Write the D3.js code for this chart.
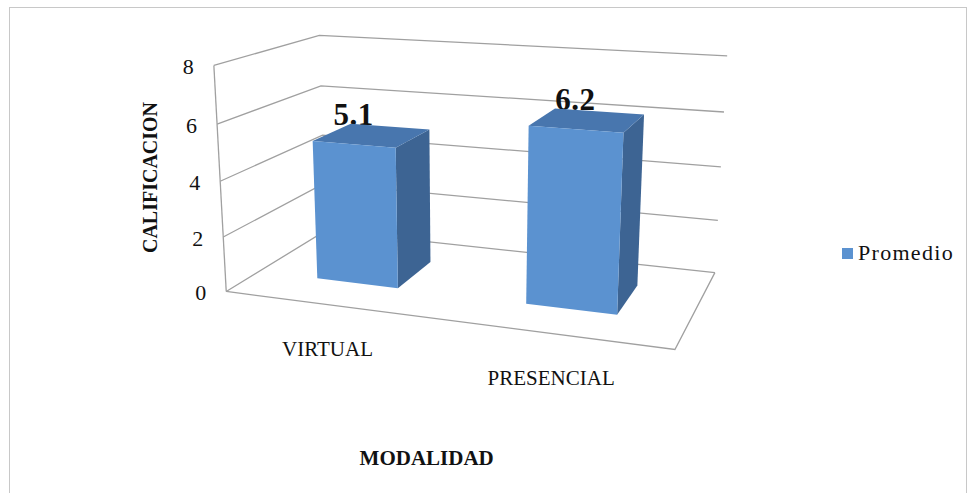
<!DOCTYPE html>
<html>
<head>
<meta charset="utf-8">
<script src="https://cdn.jsdelivr.net/npm/d3@7"></script>
<style>
  body { margin: 0; background: #ffffff; }
  text { font-family: "Liberation Serif", "Times New Roman", serif; fill: #111; }
</style>
</head>
<body>
<svg id="chart" width="972" height="493"></svg>
<script>
// ---- data ----
const categories = ["VIRTUAL", "PRESENCIAL"];
const promedio = [5.1, 6.2];
const yTicks = [0, 2, 4, 6, 8];
const seriesName = "Promedio";
const yTitle = "CALIFICACION";
const xTitle = "MODALIDAD";

// ---- 3D plot box: unit cube, x across categories, y up, z into the page ----
// Screen positions of the box corners used to set up the perspective camera.
const boxCorners = [
  { w: [0, 0, 0], s: [226.7, 290.7] },
  { w: [0, 0, 1], s: [325.0, 231.5] },
  { w: [1, 0, 1], s: [715.0, 272.0] },
  { w: [1, 0, 0], s: [675.0, 350.0] },
  { w: [0, 1, 0], s: [213.3, 65.7] },
  { w: [0, 1, 1], s: [320.0, 35.0] },
  { w: [1, 1, 1], s: [727.0, 56.0] }
];

// Least-squares 3x4 projection (last entry fixed to 1)
function solveCamera(pts) {
  const A = [], b = [];
  pts.forEach(({ w: [X, Y, Z], s: [u, v] }) => {
    A.push([X, Y, Z, 1, 0, 0, 0, 0, -u * X, -u * Y, -u * Z]); b.push(u);
    A.push([0, 0, 0, 0, X, Y, Z, 1, -v * X, -v * Y, -v * Z]); b.push(v);
  });
  const n = 11;
  const M = Array.from({ length: n }, () => new Array(n + 1).fill(0));
  for (let r = 0; r < A.length; r++) {
    for (let i = 0; i < n; i++) {
      for (let j = 0; j < n; j++) M[i][j] += A[r][i] * A[r][j];
      M[i][n] += A[r][i] * b[r];
    }
  }
  for (let c = 0; c < n; c++) {
    let p = c;
    for (let r = c + 1; r < n; r++) if (Math.abs(M[r][c]) > Math.abs(M[p][c])) p = r;
    [M[c], M[p]] = [M[p], M[c]];
    for (let r = 0; r < n; r++) {
      if (r === c) continue;
      const f = M[r][c] / M[c][c];
      for (let k = c; k <= n; k++) M[r][k] -= f * M[c][k];
    }
  }
  return M.map((row, i) => row[n] / row[i]);
}
const P = solveCamera(boxCorners);
function project([x, y, z]) {
  const w = P[8] * x + P[9] * y + P[10] * z + 1;
  return [(P[0] * x + P[1] * y + P[2] * z + P[3]) / w,
          (P[4] * x + P[5] * y + P[6] * z + P[7]) / w];
}

// ---- scales ----
const yScale = d3.scaleLinear().domain([0, 8]).range([0, 1]);
const xScale = d3.scaleBand().domain(categories).range([0, 1])
  .paddingInner(0.6).paddingOuter(0.3);
const gapDepth = 1.5;
const barDepth = 1 / (1 + gapDepth);
const z0 = (1 - barDepth) / 2, z1 = z0 + barDepth;

const svg = d3.select("#chart");
const line = d3.line();
const poly = pts => line(pts.map(project)) + "Z";

// outer frame
svg.append("rect")
  .attr("x", 9.5).attr("y", 7.5).attr("width", 957).attr("height", 492)
  .attr("fill", "none").attr("stroke", "#c8c8c8").attr("stroke-width", 1);

const grid = svg.append("g")
  .attr("fill", "none").attr("stroke", "#a0a0a0").attr("stroke-width", 1.3);

// side and back wall gridlines
yTicks.forEach(t => {
  const y = yScale(t);
  grid.append("path").attr("d", line([project([0, y, 0]), project([0, y, 1]), project([1, y, 1])]));
});
// front edge of the side wall
grid.append("path").attr("d", line([project([0, 0, 0]), project([0, 1, 0])]));
// floor front and right edges
grid.append("path").attr("d", line([project([0, 0, 0]), project([1, 0, 0]), project([1, 0, 1])]));

// value axis tick labels
svg.append("g").selectAll("text").data(yTicks).join("text")
  .attr("x", d => project([0, yScale(d), 0])[0] - 20)
  .attr("y", d => project([0, yScale(d), 0])[1] + 9)
  .attr("text-anchor", "end")
  .attr("font-size", 22)
  .text(d => d);

// category labels
svg.append("g").selectAll("text").data(categories).join("text")
  .attr("x", d => project([xScale(d) + xScale.bandwidth() / 2, 0, 0])[0] - 0.5)
  .attr("y", d => project([xScale(d) + xScale.bandwidth() / 2, 0, 0])[1] + 51)
  .attr("text-anchor", "middle")
  .attr("font-size", 21)
  .text(d => d);

// value labels (sit behind the bar tops)
svg.append("g").selectAll("text").data(categories).join("text")
  .attr("x", (d, i) => project([xScale(d) + xScale.bandwidth() / 2, yScale(promedio[i]), z0])[0])
  .attr("y", (d, i) => project([xScale(d) + xScale.bandwidth() / 2, yScale(promedio[i]), z0])[1] - 19)
  .attr("text-anchor", "middle")
  .attr("font-size", 31)
  .attr("font-weight", "bold")
  .attr("letter-spacing", 0.5)
  .text((d, i) => d3.format(".1f")(promedio[i]));

// bars
const colors = { front: "#5b92d0", top: "#4876ae", side: "#3d6493" };
const bars = svg.append("g").selectAll("g").data(categories).join("g");
bars.each(function (d, i) {
  const g = d3.select(this);
  const x0 = xScale(d), x1 = x0 + xScale.bandwidth();
  const h = yScale(promedio[i]);
  g.append("path").attr("fill", colors.side)
    .attr("d", poly([[x1, 0, z0], [x1, 0, z1], [x1, h, z1], [x1, h, z0]]));
  g.append("path").attr("fill", colors.top)
    .attr("d", poly([[x0, h, z0], [x1, h, z0], [x1, h, z1], [x0, h, z1]]));
  g.append("path").attr("fill", colors.front)
    .attr("d", poly([[x0, 0, z0], [x1, 0, z0], [x1, h, z0], [x0, h, z0]]));
});

// axis titles
svg.append("text")
  .attr("transform", "translate(157,177.5) rotate(-90)")
  .attr("text-anchor", "middle")
  .attr("font-size", 20).attr("font-weight", "bold")
  .text(yTitle);
svg.append("text")
  .attr("x", 426.7).attr("y", 465)
  .attr("text-anchor", "middle")
  .attr("font-size", 21).attr("font-weight", "bold")
  .text(xTitle);

// legend
const legend = svg.append("g").attr("transform", "translate(842,248)");
legend.append("rect").attr("width", 11).attr("height", 11).attr("fill", colors.front);
legend.append("text").attr("x", 16).attr("y", 12)
  .attr("font-size", 22).attr("letter-spacing", 1.3)
  .text(seriesName);
</script>
</body>
</html>
